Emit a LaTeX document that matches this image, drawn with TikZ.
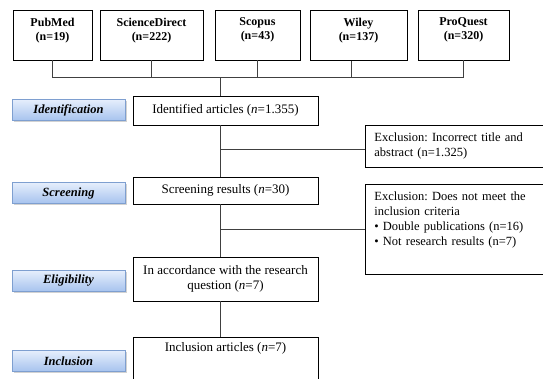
\documentclass[tikz,border=0pt]{standalone}
\usepackage{fontspec}
\setmainfont{Liberation Serif}
\usetikzlibrary{shadows}
\definecolor{stagetop}{HTML}{E6EEFC}
\definecolor{stagebot}{HTML}{A6C3EE}
\definecolor{stageedge}{HTML}{7E9FD0}
\newcommand{\lowstrut}[1]{\rule[-#1]{0pt}{#1}}
\frenchspacing

\begin{document}
\begin{tikzpicture}[x=1pt, y=-1pt, line width=0.8pt,
    every node/.style={font=\fontsize{13}{15.5}\selectfont},
    dbbox/.style={draw, fill=white, align=center, minimum height=50pt, inner sep=2pt,
      font=\fontsize{12}{14}\selectfont\bfseries},
    mainbox/.style={draw, fill=white, align=center, minimum width=185pt, inner sep=4pt},
    exclbox/.style={draw, fill=white, align=left, anchor=north west, text width=176pt,
      inner xsep=9pt, inner ysep=7pt, font=\fontsize{12.5}{15}\selectfont},
    stagebox/.style={draw=stageedge, top color=stagetop, bottom color=stagebot,
      minimum width=113pt, minimum height=21pt, inner sep=1pt,
      drop shadow={shadow xshift=1.5pt, shadow yshift=-1.5pt, fill=black!35},
      font=\fontsize{12.5}{14}\selectfont\bfseries\itshape},
    link/.style={draw=black!75, line width=1pt}]
  \clip (0,0) rectangle (543,379);

  % databases
  \node[dbbox, minimum width=79pt] (pubmed) at (52.5,35) {PubMed\\(n=19)\lowstrut{12pt}};
  \node[dbbox, minimum width=103pt] (sciencedirect) at (151.5,35) {ScienceDirect\\(n=222)\lowstrut{12pt}};
  \node[dbbox, minimum width=85pt] (scopus) at (257.5,35) {Scopus\\(n=43)\lowstrut{12pt}};
  \node[dbbox, minimum width=97pt] (wiley) at (358.5,35.5) {Wiley\\(n=137)\lowstrut{12pt}};
  \node[dbbox, minimum width=91pt] (proquest) at (463.5,35) {ProQuest\\(n=320)\lowstrut{12pt}};
  \coordinate (hub) at (220,78);

  % stages
  \node[stagebox] (stident) at (68.5,110) {Identification};
  \node[stagebox] (stscreen) at (68.5,193) {Screening};
  \node[stagebox] (stelig) at (68.5,281) {Eligibility};
  \node[stagebox] (stincl) at (68.5,361) {Inclusion};

  \node[mainbox, minimum height=29pt] (ident) at (225.5,110.5) {Identified articles (\textit{n}=1.355)};
  \node[mainbox, minimum height=27pt] (screen) at (225.5,190.5) {Screening results (\textit{n}=30)};
  \node[mainbox, minimum height=44pt] (elig) at (225.5,279) {In accordance with the research\\question (\textit{n}=7)};
  \node[mainbox, anchor=north, inner ysep=5pt] (incl) at (225.5,337) {Inclusion articles (\textit{n}=7)\lowstrut{45pt}};

  \node[exclbox, minimum height=42pt] (excl1) at (365,125) {Exclusion: Incorrect title and\\abstract (n=1.325)};
  \node[exclbox] (excl2) at (365,184) {Exclusion: Does not meet the\\inclusion criteria\\
    \textbullet{} Double publications (n=16)\\\textbullet{} Not research results (n=7)\lowstrut{22pt}};
  \coordinate (cut1) at (220,150);
  \coordinate (cut2) at (220,230);

  % connectors
  \draw[link] (pubmed.south) -- (pubmed.south |- hub) -- (proquest.south |- hub) -- (proquest.south);
  \foreach \src in {sciencedirect,scopus}
    \draw[link] (\src.south) -- (\src.south |- hub);
  \draw[link] ([xshift=-7pt]wiley.south) -- ([xshift=-7pt]wiley.south |- hub);
  \draw[link] (hub) -- (hub |- ident.north);
  \foreach \a/\b in {ident/screen, screen/elig, elig/incl}
    \draw[link] (hub |- \a.south) -- (hub |- \b.north);
  \draw[link] (cut1) -- (cut1 -| excl1.west);
  \draw[link] (cut2) -- (cut2 -| excl2.west);
\end{tikzpicture}
\end{document}
